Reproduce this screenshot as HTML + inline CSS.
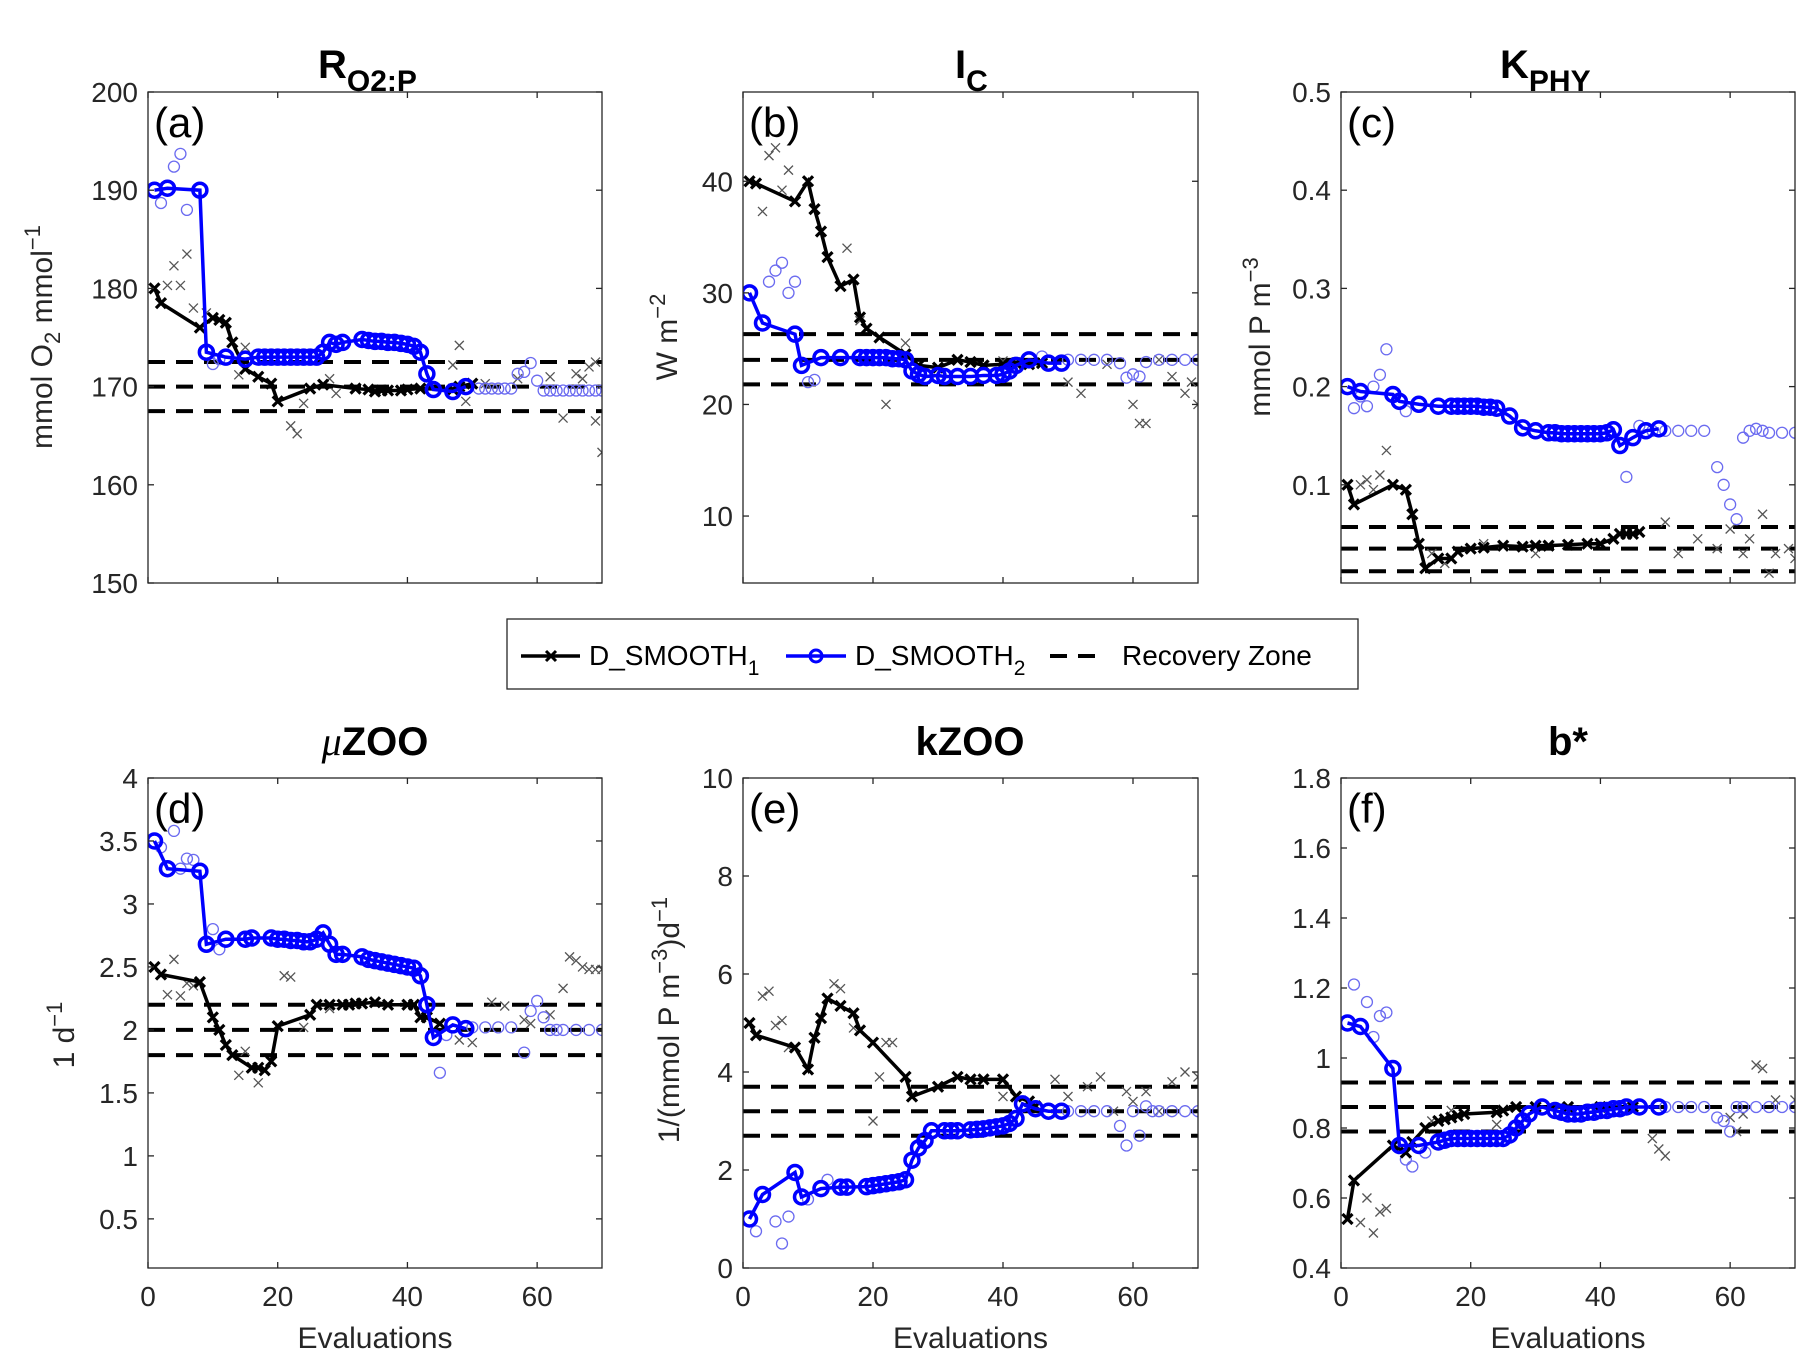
<!DOCTYPE html>
<html><head><meta charset="utf-8">
<style>
html,body{margin:0;padding:0;background:#fff;}
svg{display:block;font-family:"Liberation Sans",sans-serif;}
</style></head>
<body>
<svg id="fig" width="1815" height="1359" viewBox="0 0 1815 1359" xmlns="http://www.w3.org/2000/svg"></svg>
<script>
// ---- data (evaluation number, value) ----
const aS1x=[1,2,8,10,11,12,13,15,17,19,20,25,27,32,34,35,36,37,39,40,42,47,48,50];
const aS1y=[180,178.5,176,177,176.8,176.5,174.5,171.8,171,170.3,168.5,169.8,170.2,169.8,169.7,169.5,169.6,169.6,169.6,169.7,169.8,169.7,170,170.3];
const aS2x=[1,3,8,9,12,15,17,18,19,20,21,22,23,24,25,26,27,28,29,30,33,34,35,36,37,38,39,40,41,42,43,44,47,49];
const aS2y=[190,190.2,190,173.5,173,172.8,173,173,173,173,173,173,173,173,173,173,173.5,174.5,174.3,174.5,174.8,174.7,174.6,174.6,174.5,174.5,174.4,174.3,174.1,173.5,171.3,169.7,169.5,170];
const aP1x=[3,4,5,6,7,9,14,15,22,23,24,28,29,47,48,49,52,57,62,64,66,67,68,69,69,70];
const aP1y=[180.3,182.3,180.3,183.5,178,177.5,171.2,174,166,165.2,168.3,170.8,169.3,172.2,174.2,168.5,170.3,170.8,171,166.8,171.3,170.8,172,172.5,166.5,163.3];
const aP2x=[2,4,5,6,10,11,51,52,53,54,55,56,57,58,59,60,61,62,63,64,65,66,67,68,69,70];
const aP2y=[188.7,192.4,193.7,188,172.3,172.8,169.8,169.8,169.8,169.8,169.8,169.8,171.3,171.5,172.4,170.6,169.6,169.6,169.6,169.6,169.6,169.6,169.6,169.6,169.6,169.6];
const aRec=[172.5,170,167.5];

const bS1x=[1,2,8,10,11,12,13,15,17,18,19,21,25,27,30,33,35,37,40,42,44,46];
const bS1y=[40,39.8,38.2,40,37.5,35.5,33.2,30.6,31.2,27.8,26.8,26,24.5,23.5,23.3,24,23.8,23.5,23.6,23.7,23.6,23.7];
const bS2x=[1,3,8,9,12,15,18,19,20,21,22,23,24,25,26,27,28,30,31,33,35,37,39,40,41,42,44,47,49];
const bS2y=[30,27.3,26.3,23.5,24.2,24.2,24.2,24.2,24.2,24.2,24.2,24.1,24.1,24,23,22.7,22.5,22.6,22.5,22.5,22.5,22.6,22.6,22.7,23,23.5,24,23.7,23.7];
const bP1x=[3,4,5,6,7,16,18,22,25,40,50,52,56,60,61,62,64,66,68,69,70];
const bP1y=[37.3,42.3,43,39.2,41,34,27.5,20,25.5,23.9,22,21,23.6,20,18.3,18.3,24,22.5,21,22,20];
const bP2x=[4,5,6,7,8,10,11,46,50,52,54,56,58,59,60,61,62,64,66,68,70];
const bP2y=[31,32,32.7,30,31,22,22.2,24.3,24,24,24,24,23.7,22.4,22.7,22.5,23.8,24,24,24,24];
const bRec=[26.3,24,21.8];

const cS1x=[1,2,8,10,11,12,13,15,17,18,20,22,25,28,30,32,35,38,40,42,43,44,45,46];
const cS1y=[0.1,0.08,0.1,0.095,0.07,0.04,0.015,0.025,0.025,0.032,0.035,0.036,0.038,0.037,0.038,0.038,0.039,0.04,0.04,0.045,0.05,0.05,0.05,0.052];
const cS2x=[1,3,8,9,12,15,17,18,19,20,21,22,23,24,26,28,30,32,33,34,35,36,37,38,39,40,41,42,43,45,47,49];
const cS2y=[0.2,0.195,0.192,0.185,0.182,0.18,0.18,0.18,0.18,0.18,0.18,0.179,0.179,0.178,0.17,0.158,0.155,0.153,0.153,0.152,0.152,0.152,0.152,0.152,0.152,0.152,0.153,0.156,0.14,0.148,0.155,0.157];
const cP1x=[3,4,5,6,7,14,16,22,30,40,50,52,55,58,60,62,63,65,66,67,69,70];
const cP1y=[0.1,0.105,0.095,0.11,0.135,0.03,0.02,0.04,0.03,0.04,0.062,0.03,0.045,0.035,0.055,0.03,0.045,0.07,0.01,0.03,0.035,0.025];
const cP2x=[2,3,4,5,6,7,10,44,46,48,50,52,54,56,58,59,60,61,62,63,64,65,66,68,70];
const cP2y=[0.178,0.19,0.18,0.2,0.212,0.238,0.175,0.108,0.16,0.155,0.155,0.155,0.155,0.155,0.118,0.1,0.08,0.065,0.148,0.155,0.157,0.155,0.153,0.153,0.153];
const cRec=[0.057,0.035,0.012];

const dS1x=[1,2,8,10,11,12,13,16,17,18,19,20,25,26,28,30,31,32,33,35,37,40,41,42,43,45];
const dS1y=[2.5,2.44,2.38,2.1,2.0,1.88,1.8,1.7,1.7,1.68,1.75,2.03,2.12,2.2,2.2,2.2,2.2,2.21,2.21,2.22,2.2,2.2,2.2,2.1,2.1,2.05];
const dS2x=[1,3,8,9,12,15,16,19,20,21,22,23,24,25,26,27,28,29,30,33,34,35,36,37,38,39,40,41,42,43,44,47,49];
const dS2y=[3.5,3.28,3.26,2.68,2.72,2.72,2.73,2.73,2.72,2.72,2.71,2.71,2.7,2.7,2.72,2.77,2.68,2.6,2.6,2.58,2.56,2.55,2.54,2.53,2.52,2.51,2.5,2.49,2.43,2.2,1.94,2.04,2.01];
const dP1x=[3,4,5,6,7,14,15,17,21,22,24,28,48,50,53,55,58,59,62,64,65,66,67,68,69,70];
const dP1y=[2.28,2.56,2.27,2.37,2.35,1.64,1.83,1.58,2.43,2.42,2.02,2.17,1.92,1.9,2.22,2.19,2.08,2.05,2.12,2.33,2.58,2.55,2.5,2.48,2.48,2.48];
const dP2x=[2,4,5,6,7,10,11,45,46,50,52,54,56,58,59,60,61,62,63,64,66,68,70];
const dP2y=[3.45,3.58,3.28,3.36,3.35,2.8,2.64,1.66,1.96,2.02,2.02,2.02,2.02,1.82,2.15,2.23,2.1,2.0,2.0,2.0,2.0,2.0,2.0];
const dRec=[2.2,2.0,1.8];

const eS1x=[1,2,8,10,11,12,13,15,17,18,20,25,26,30,33,35,37,40,42,44,45];
const eS1y=[5,4.75,4.5,4.05,4.7,5.1,5.5,5.35,5.2,4.85,4.6,3.9,3.5,3.7,3.9,3.85,3.85,3.85,3.5,3.4,3.3];
const eS2x=[1,3,8,9,12,15,16,19,20,21,22,23,24,25,26,27,28,29,31,32,33,35,36,37,38,39,40,41,42,43,45,47,49];
const eS2y=[1,1.5,1.95,1.45,1.62,1.65,1.65,1.66,1.68,1.7,1.72,1.74,1.76,1.8,2.2,2.45,2.6,2.8,2.8,2.8,2.8,2.82,2.83,2.84,2.86,2.88,2.9,2.95,3.05,3.35,3.25,3.2,3.2];
const eP1x=[3,4,5,6,7,14,15,17,20,21,22,23,40,48,50,53,55,57,59,60,62,64,66,68,70];
const eP1y=[5.55,5.65,4.95,5.05,4.5,5.8,5.7,4.9,3.0,3.9,4.6,4.6,3.5,3.85,3.5,3.7,3.9,3.2,3.6,3.4,3.6,3.2,3.8,4.0,3.9];
const eP2x=[2,5,6,7,10,13,50,52,54,56,58,59,60,61,62,63,64,66,68,70];
const eP2y=[0.75,0.95,0.5,1.05,1.4,1.8,3.2,3.2,3.2,3.2,2.9,2.5,3.2,2.7,3.3,3.2,3.2,3.2,3.2,3.2];
const eRec=[3.7,3.2,2.7];

const fS1x=[1,2,8,10,11,13,15,16,17,18,19,24,25,27,30,35,40,45];
const fS1y=[0.54,0.65,0.75,0.73,0.76,0.8,0.82,0.825,0.83,0.835,0.84,0.845,0.85,0.86,0.86,0.86,0.86,0.86];
const fS2x=[1,3,8,9,12,15,16,17,18,19,20,21,22,23,24,25,26,27,28,29,31,33,34,35,36,37,38,39,40,41,42,43,44,46,49];
const fS2y=[1.1,1.09,0.97,0.75,0.75,0.76,0.765,0.77,0.77,0.77,0.77,0.77,0.77,0.77,0.77,0.77,0.78,0.8,0.82,0.84,0.86,0.85,0.845,0.84,0.84,0.84,0.845,0.845,0.85,0.85,0.855,0.855,0.86,0.86,0.86];
const fP1x=[3,4,5,6,7,14,17,24,48,49,50,60,61,62,64,65,67,70];
const fP1y=[0.53,0.6,0.5,0.56,0.57,0.82,0.85,0.81,0.77,0.74,0.72,0.83,0.79,0.84,0.98,0.97,0.88,0.88];
const fP2x=[2,4,5,6,7,10,11,13,50,52,54,56,58,59,60,61,62,64,66,68,70];
const fP2y=[1.21,1.16,1.06,1.12,1.13,0.71,0.69,0.73,0.86,0.86,0.86,0.86,0.83,0.82,0.79,0.86,0.86,0.86,0.86,0.86,0.86];
const fRec=[0.93,0.86,0.79];

const xTicks=[0,20,40,60];
const aTicks=[150,160,170,180,190,200];
const bTicks=[10,20,30,40];
const cTicks=[0.1,0.2,0.3,0.4,0.5];
const dTicks=[0.5,1,1.5,2,2.5,3,3.5,4];
const eTicks=[0,2,4,6,8,10];
const fTicks=[0.4,0.6,0.8,1,1.2,1.4,1.6,1.8];

const NS="http://www.w3.org/2000/svg";
const fig=document.getElementById('fig');
function mk(tag,attrs,parent){const e=document.createElementNS(NS,tag);for(const k in attrs)e.setAttribute(k,attrs[k]);(parent||fig).appendChild(e);return e;}

const panels=[
 {id:'a',L:148,T:92,W:454,H:491,ymin:150,ymax:200,ticks:aTicks,s1x:aS1x,s1y:aS1y,s2x:aS2x,s2y:aS2y,p1x:aP1x,p1y:aP1y,p2x:aP2x,p2y:aP2y,rec:aRec,xl:false},
 {id:'b',L:743,T:92,W:455,H:491,ymin:4,ymax:48,ticks:bTicks,s1x:bS1x,s1y:bS1y,s2x:bS2x,s2y:bS2y,p1x:bP1x,p1y:bP1y,p2x:bP2x,p2y:bP2y,rec:bRec,xl:false},
 {id:'c',L:1341,T:92,W:454,H:491,ymin:0,ymax:0.5,ticks:cTicks,s1x:cS1x,s1y:cS1y,s2x:cS2x,s2y:cS2y,p1x:cP1x,p1y:cP1y,p2x:cP2x,p2y:cP2y,rec:cRec,xl:false},
 {id:'d',L:148,T:778,W:454,H:490,ymin:0.11,ymax:4,ticks:dTicks,s1x:dS1x,s1y:dS1y,s2x:dS2x,s2y:dS2y,p1x:dP1x,p1y:dP1y,p2x:dP2x,p2y:dP2y,rec:dRec,xl:true},
 {id:'e',L:743,T:778,W:455,H:490,ymin:0,ymax:10,ticks:eTicks,s1x:eS1x,s1y:eS1y,s2x:eS2x,s2y:eS2y,p1x:eP1x,p1y:eP1y,p2x:eP2x,p2y:eP2y,rec:eRec,xl:true},
 {id:'f',L:1341,T:778,W:454,H:490,ymin:0.4,ymax:1.8,ticks:fTicks,s1x:fS1x,s1y:fS1y,s2x:fS2x,s2y:fS2y,p1x:fP1x,p1y:fP1y,p2x:fP2x,p2y:fP2y,rec:fRec,xl:true}
];

panels.forEach(p=>{
 const g=mk('g',{});
 
 
 const X=v=>p.L+v/70*p.W;
 const Y=v=>p.T+p.H-(v-p.ymin)/(p.ymax-p.ymin)*p.H;
 const cp=mk('clipPath',{id:'clip'+p.id},g);
 mk('rect',{x:p.L,y:p.T,width:p.W,height:p.H},cp);
 p.rec.forEach((r,i)=>{
  const l=mk('line',{x1:p.L,x2:p.L+p.W,y1:Y(r),y2:Y(r),stroke:'#000','stroke-width':4,'stroke-dasharray':'17,11'},g);
  
  
 });
 const data=mk('g',{'clip-path':'url(#clip'+p.id+')'},g);
 p.p1x.forEach((x,i)=>{
  const cx=X(x),cy=Y(p.p1y[i]),s=4.5;
  const m=mk('path',{d:`M${cx-s},${cy-s}L${cx+s},${cy+s}M${cx-s},${cy+s}L${cx+s},${cy-s}`,stroke:'#555','stroke-width':1.3,fill:'none'},data);
  
  
 });
 p.p2x.forEach((x,i)=>{
  const m=mk('circle',{cx:X(x),cy:Y(p.p2y[i]),r:5.5,fill:'none',stroke:'#6b6bf0','stroke-width':1.3},data);
  
  
 });
 const l1=mk('polyline',{points:p.s1x.map((x,i)=>X(x)+','+Y(p.s1y[i])).join(' '),fill:'none',stroke:'#000','stroke-width':3.5},data);
 
 
 p.s1x.forEach((x,i)=>{
  const cx=X(x),cy=Y(p.s1y[i]),s=5;
  const m=mk('path',{d:`M${cx-s},${cy-s}L${cx+s},${cy+s}M${cx-s},${cy+s}L${cx+s},${cy-s}`,stroke:'#000','stroke-width':3.2,fill:'none'},data);
  
  
 });
 const l2=mk('polyline',{points:p.s2x.map((x,i)=>X(x)+','+Y(p.s2y[i])).join(' '),fill:'none',stroke:'#0000ff','stroke-width':3.5},data);
 
 
 p.s2x.forEach((x,i)=>{
  const m=mk('circle',{cx:X(x),cy:Y(p.s2y[i]),r:7,fill:'none',stroke:'#0000ff','stroke-width':3.5},data);
  
  
 });
 const fr=mk('rect',{x:p.L,y:p.T,width:p.W,height:p.H,fill:'none',stroke:'#262626','stroke-width':1.3},g);
 
 
 p.ticks.forEach(t=>{
  const y=Y(t);
  mk('line',{x1:p.L,x2:p.L+6,y1:y,y2:y,stroke:'#262626','stroke-width':1.3},g);
  mk('line',{x1:p.L+p.W-6,x2:p.L+p.W,y1:y,y2:y,stroke:'#262626','stroke-width':1.3},g);
  const tx=mk('text',{x:p.L-10,y:y+10,'text-anchor':'end','font-size':28,fill:'#262626'},g);
  tx.textContent=String(t);
  
  
 });
 xTicks.forEach(t=>{
  const x=X(t);
  mk('line',{x1:x,x2:x,y1:p.T+p.H,y2:p.T+p.H-6,stroke:'#262626','stroke-width':1.3},g);
  mk('line',{x1:x,x2:x,y1:p.T,y2:p.T+6,stroke:'#262626','stroke-width':1.3},g);
  if(p.xl){
   const tx=mk('text',{x:x,y:p.T+p.H+38,'text-anchor':'middle','font-size':28,fill:'#262626'},g);
   tx.textContent=String(t);
   
   
  }
 });
 if(p.xl){
  const tx=mk('text',{x:p.L+p.W/2,y:p.T+p.H+80,'text-anchor':'middle','font-size':30,fill:'#262626'},g);
  tx.textContent='Evaluations';
  
  
 }
 const pl=mk('text',{x:p.L+6,y:p.T+45,'font-size':42,fill:'#000'},g);
 pl.textContent='('+p.id+')';
 
 
});
</script>
<svg style="position:absolute;left:0;top:0" width="1815" height="1359" xmlns="http://www.w3.org/2000/svg" font-family="Liberation Sans, sans-serif">
 <text x="318" y="78" font-size="40" font-weight="bold">R<tspan font-size="30" dy="13">O2:P</tspan></text>
 <text x="955" y="78" font-size="40" font-weight="bold">I<tspan font-size="30" dy="13">C</tspan></text>
 <text x="1500" y="78" font-size="40" font-weight="bold">K<tspan font-size="30" dy="13">PHY</tspan></text>
 <text x="375" y="755" font-size="40" font-weight="bold" text-anchor="middle"><tspan font-style="italic" font-family="Liberation Serif, serif" font-weight="normal">μ</tspan>ZOO</text>
 <text x="970" y="755" font-size="40" font-weight="bold" text-anchor="middle">kZOO</text>
 <text x="1568" y="755" font-size="40" font-weight="bold" text-anchor="middle">b*</text>
 <text transform="translate(52,337) rotate(-90)" font-size="30" text-anchor="middle" fill="#262626">mmol O<tspan font-size="22" dy="8">2</tspan><tspan dy="-8"> mmol</tspan><tspan font-size="22" dy="-12">−1</tspan></text>
 <text transform="translate(677,337) rotate(-90)" font-size="30" text-anchor="middle" fill="#262626">W m<tspan font-size="22" dy="-12">−2</tspan></text>
 <text transform="translate(1270,337) rotate(-90)" font-size="30" text-anchor="middle" fill="#262626">mmol P m<tspan font-size="22" dy="-12">−3</tspan></text>
 <text transform="translate(74,1035) rotate(-90)" font-size="30" text-anchor="middle" fill="#262626">1 d<tspan font-size="22" dy="-12">−1</tspan></text>
 <text transform="translate(679,1020) rotate(-90)" font-size="30" text-anchor="middle" fill="#262626">1/(mmol P m<tspan font-size="22" dy="-12">−3</tspan><tspan dy="12">)d</tspan><tspan font-size="22" dy="-12">−1</tspan></text>
 <g>
  <rect x="507" y="619" width="851" height="70" fill="#fff" stroke="#262626" stroke-width="1.3"/>
  <line x1="521" y1="656" x2="580" y2="656" stroke="#000" stroke-width="3.5"/>
  <path d="M546,651L556,661M546,661L556,651" stroke="#000" stroke-width="3"/>
  <text x="589" y="665" font-size="28" fill="#000">D_SMOOTH<tspan font-size="21" dy="10">1</tspan></text>
  <line x1="786" y1="656" x2="846" y2="656" stroke="#0000ff" stroke-width="3.5"/>
  <circle cx="816" cy="656" r="6" fill="none" stroke="#0000ff" stroke-width="3"/>
  <text x="855" y="665" font-size="28" fill="#000">D_SMOOTH<tspan font-size="21" dy="10">2</tspan></text>
  <line x1="1050" y1="656" x2="1106" y2="656" stroke="#000" stroke-width="4" stroke-dasharray="17,11"/>
  <text x="1122" y="665" font-size="28" fill="#000">Recovery Zone</text>
 </g>
</svg>
</body></html>
